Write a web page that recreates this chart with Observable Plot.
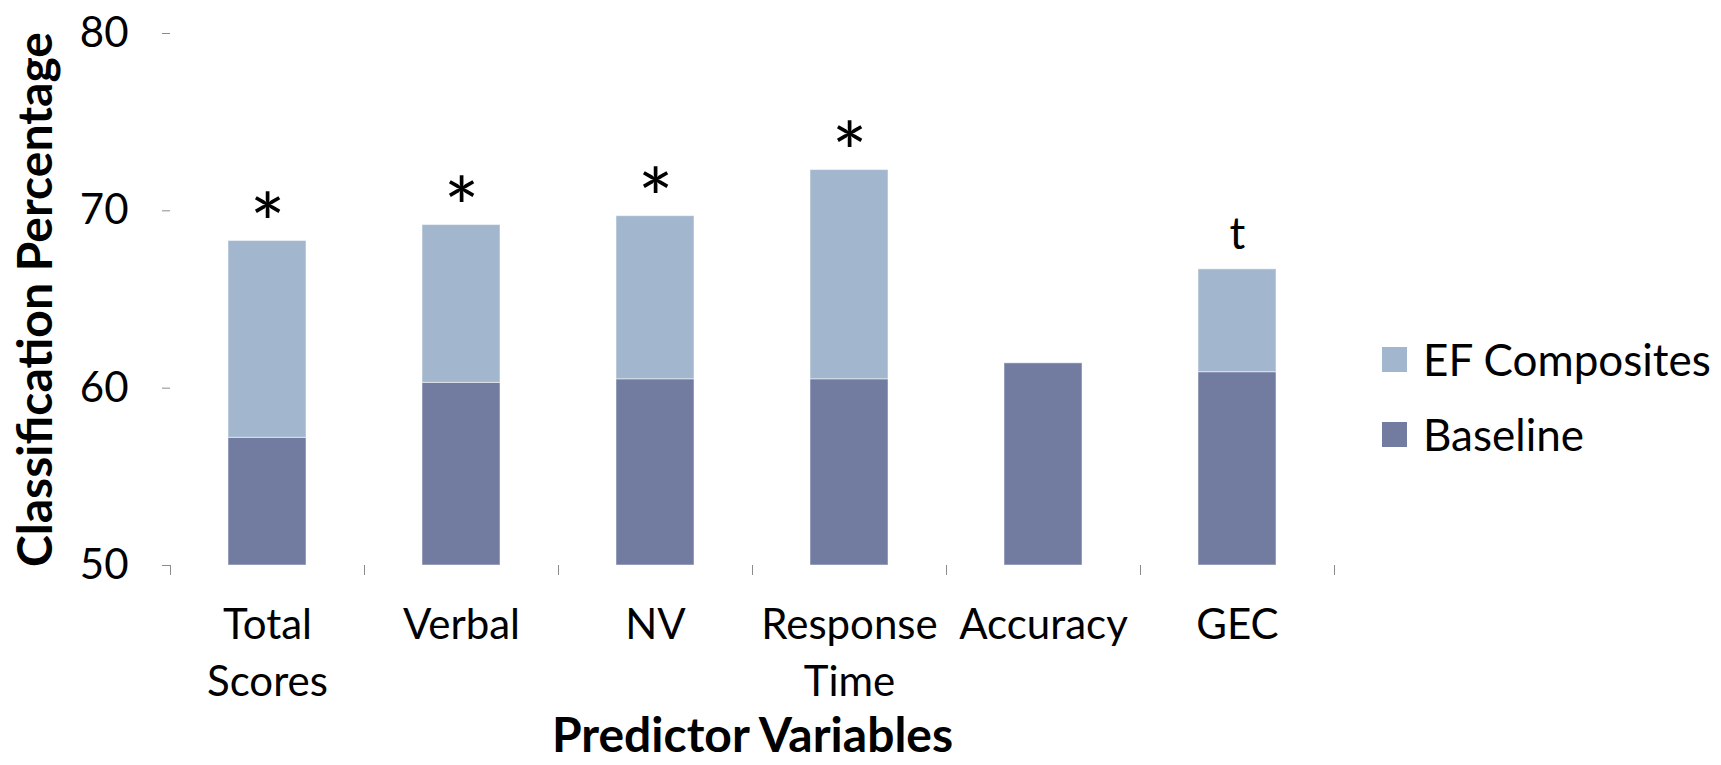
<!DOCTYPE html>
<html>
<head>
<meta charset="utf-8">
<script src="https://cdn.jsdelivr.net/npm/d3@7"></script>
<script src="https://cdn.jsdelivr.net/npm/@observablehq/plot@0.6"></script>
<style>
  body { margin: 0; background: #fff; font-family: Lato, sans-serif; }
  #chart { position: relative; width: 1721px; height: 765px; }
  #legend { position: absolute; left: 1382px; top: 333px; }
  #legend .lg-swatch { margin-bottom: 22px; }
  #legend .lg-swatch svg { margin-right: 16px !important; }
</style>
</head>
<body>
<div id="chart"><div id="legend"></div></div>
<script>
// Classification percentage per predictor set: baseline model vs. model with EF composites
const categories = ["Total\nScores", "Verbal", "NV", "Response\nTime", "Accuracy", "GEC"];
const baseline = [57.2, 60.3, 60.5, 60.5, 61.4, 60.9];
const withEF = [68.3, 69.2, 69.7, 72.3, null, 66.7];
const significance = ["*", "*", "*", "*", "", "t"];
const yTicks = [50, 60, 70, 80];
const seriesNames = ["EF Composites", "Baseline"];
const seriesColors = ["#A2B7CE", "#727BA0"];
const yTitle = "Classification Percentage";
const xTitle = "Predictor Variables";

const rows = categories.map((category, i) => ({
  category,
  baseline: baseline[i],
  ef: withEF[i],
  sig: significance[i]
}));

const width = 1721, height = 765;
const marginLeft = 170, marginRight = 387, marginTop = 33, marginBottom = 200;
const step = (width - marginLeft - marginRight) / categories.length;
const frameHeight = height - marginTop - marginBottom;
const axisGrey = "#8c8c8c";
const yMin = yTicks[0];

const chart = Plot.plot({
  width, height, marginLeft, marginRight, marginTop, marginBottom,
  style: { fontFamily: "Lato, sans-serif", color: "#000", background: "#fff" },
  x: { domain: categories, paddingInner: 0.6, paddingOuter: 0.3 },
  y: { domain: [yTicks[0], yTicks[yTicks.length - 1]] },
  color: { domain: seriesNames, range: seriesColors },
  marks: [
    // baseline segment from the axis floor
    Plot.barY(rows, {
      x: "category", y1: () => yMin, y2: "baseline",
      fill: () => "Baseline", stroke: "#fff", strokeOpacity: 0.5
    }),
    // gain from adding the EF composites, stacked on the baseline
    Plot.barY(rows.filter(d => d.ef != null), {
      x: "category", y1: "baseline", y2: "ef",
      fill: () => "EF Composites", stroke: "#fff", strokeOpacity: 0.5
    }),
    Plot.axisY({
      ticks: yTicks, tickSize: 8, tickPadding: 34, fontSize: 42,
      stroke: axisGrey, line: true, label: null
    }),
    Plot.axisX({
      tickSize: 0, tickPadding: 33, fontSize: 42, lineHeight: 1.36,
      stroke: axisGrey, line: true, label: null
    }),
    // category boundary ticks below the x axis
    Plot.ruleX(categories, {
      x: d => d, dx: -step / 2, insetTop: frameHeight, insetBottom: -10, stroke: axisGrey
    }),
    Plot.ruleX(categories.slice(-1), {
      x: d => d, dx: step / 2, insetTop: frameHeight, insetBottom: -10, stroke: axisGrey
    }),
    // significance markers
    Plot.text(rows.filter(d => d.sig === "*"), {
      x: "category", y: "ef", text: "sig", fontSize: 84, lineAnchor: "middle", dy: -14
    }),
    Plot.text(rows.filter(d => d.sig === "t"), {
      x: "category", y: "ef", text: "sig", fontSize: 44, lineAnchor: "bottom", dy: -20
    }),
    // axis titles
    Plot.text([yTitle], {
      text: d => d, frameAnchor: "left", textAnchor: "middle", lineAnchor: "middle",
      dx: -134, rotate: -90, fontSize: 48, fontWeight: "bold"
    }),
    Plot.text([xTitle], {
      text: d => d, frameAnchor: "bottom", textAnchor: "middle", lineAnchor: "middle",
      dy: 171, fontSize: 48, fontWeight: "bold"
    })
  ]
});

document.getElementById("chart").prepend(chart);

const legend = chart.legend("color", {
  legend: "swatches", columns: 1, swatchSize: 25, className: "lg",
  style: { fontFamily: "Lato, sans-serif", fontSize: "44px", color: "#000" }
});
document.getElementById("legend").append(legend);
</script>
</body>
</html>
